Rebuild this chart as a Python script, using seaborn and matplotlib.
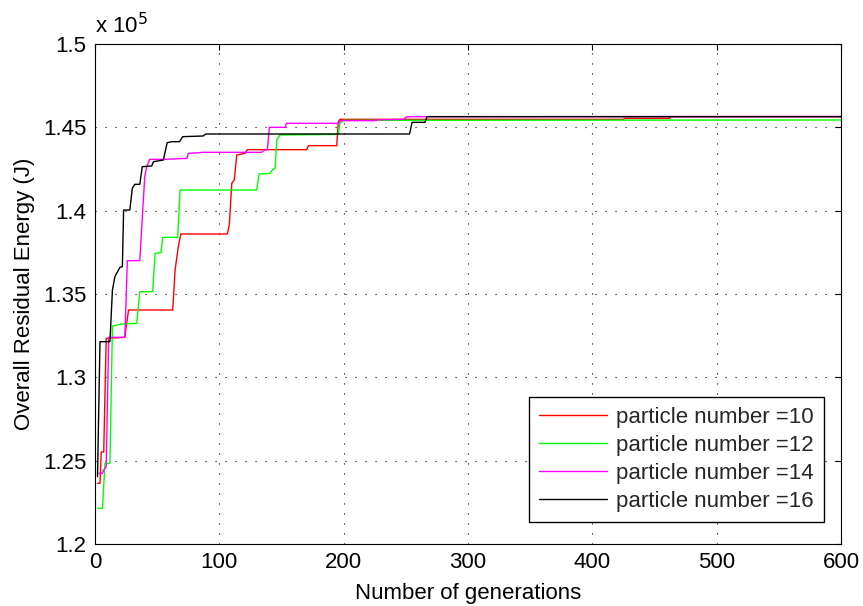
import numpy as np
import matplotlib
matplotlib.use("Agg")
import matplotlib.pyplot as plt
from matplotlib.ticker import FuncFormatter
import seaborn as sns

# ---- data (polyline vertices; energy in J) ----
gen10 = [2, 4, 5, 7, 9, 24, 25, 27, 62.5, 64.4, 67, 69, 106.4, 108, 110, 112, 114,
         120.7, 122.5, 170.3, 171.6, 194.4, 195.7, 197, 425, 426, 462, 463, 600]
energy10 = [123640, 123640, 125520, 125520, 132340, 132400, 133000, 134040, 134040,
            136440, 137840, 138600, 138600, 139140, 141640, 141840, 143340, 143440,
            143660, 143660, 143900, 143900, 145340, 145480, 145480, 145540, 145540,
            145640, 145640]

gen12 = [2, 6, 8, 12, 14, 21.5, 33.5, 36, 46.4, 48.3, 53, 54.5, 66.5, 68.4, 130,
         132, 140.8, 143, 144.8, 146.2, 148.8, 195.7, 197, 199.7, 600]
energy12 = [122140, 122140, 124840, 124840, 133080, 133200, 133240, 135140, 135140,
            137440, 137480, 138400, 138400, 141240, 141240, 142200, 142240, 142480,
            142520, 144240, 144540, 144580, 145240, 145420, 145440]

gen14 = [3, 6, 7, 9, 11, 24, 26, 36, 40, 41.6, 44, 56, 74, 75, 84.5, 86, 134, 136,
         138.6, 140.2, 153, 154, 196, 197, 225, 227, 248, 251, 600]
energy14 = [124240, 124240, 124440, 124640, 132400, 132400, 137000, 137000, 142040,
            142640, 143080, 143080, 143140, 143440, 143480, 143500, 143500, 143640,
            143640, 145000, 145000, 145240, 145240, 145400, 145400, 145450, 145480,
            145640, 145650]

gen16 = [2, 4, 12, 14, 16, 20, 22, 23, 28, 30, 32, 36, 38, 45.6, 47, 55, 58, 62, 68,
         70.5, 87, 89, 253, 255, 265.5, 267, 600]
energy16 = [124040, 132140, 132140, 135240, 136040, 136600, 136640, 140040, 140040,
            141340, 141580, 141580, 142640, 142680, 142940, 143040, 144080, 144140,
            144140, 144440, 144480, 144600, 144600, 145300, 145300, 145640, 145640]

series_labels = ["particle number =10", "particle number =12",
                 "particle number =14", "particle number =16"]
series_colors = ["#ff0000", "#00ff00", "#ff00ff", "#000000"]

xticks = [0, 100, 200, 300, 400, 500, 600]
yticks = [120000, 125000, 130000, 135000, 140000, 145000, 150000]

# ---- style ----
sns.set_theme(style="white")
plt.rcParams["font.family"] = ["Liberation Sans", "DejaVu Sans"]
plt.rcParams["axes.edgecolor"] = "black"
plt.rcParams["axes.linewidth"] = 0.8

fig = plt.figure(figsize=(8.63, 6.06), dpi=100)
ax = fig.add_axes([0.1101, 0.1023, 0.8644, 0.8251])

gens = [gen10, gen12, gen14, gen16]
energies = [energy10, energy12, energy14, energy16]
for g, e, lab, col in zip(gens, energies, series_labels, series_colors):
    sns.lineplot(x=g, y=e, ax=ax, color=col, label=lab, sort=False,
                 estimator=None, linewidth=1.0)

ax.set_xlim(0, 600)
ax.set_ylim(120000, 150000)
ax.set_xticks(xticks)
ax.set_yticks(yticks)
ax.yaxis.set_major_formatter(FuncFormatter(lambda v, _: f"{v/1e5:g}"))

ax.grid(True, color="black", linestyle=(0, (1, 8)), linewidth=0.8)
ax.set_axisbelow(True)
ax.tick_params(axis="both", which="both", direction="in", length=4, width=0.8,
               top=True, right=True, labelsize=16, colors="black", pad=6)
for s in ax.spines.values():
    s.set_visible(True)
    s.set_color("black")

ax.set_xlabel("Number of generations", fontsize=16, color="black", labelpad=7)
ax.set_ylabel("Overall Residual Energy (J)", fontsize=16, color="black", labelpad=6)
ax.text(0.0, 1.012, r"x 10$^5$", transform=ax.transAxes, fontsize=16,
        ha="left", va="bottom", color="black")

leg = ax.legend(loc="lower right", bbox_to_anchor=(0.9772, 0.044), fontsize=16,
                frameon=True, fancybox=False, framealpha=1, edgecolor="black",
                handlelength=3.1, labelspacing=0.32, borderpad=0.45,
                handletextpad=0.4, borderaxespad=0)
leg.get_frame().set_linewidth(1.0)

fig.savefig("out.png", dpi=100)
